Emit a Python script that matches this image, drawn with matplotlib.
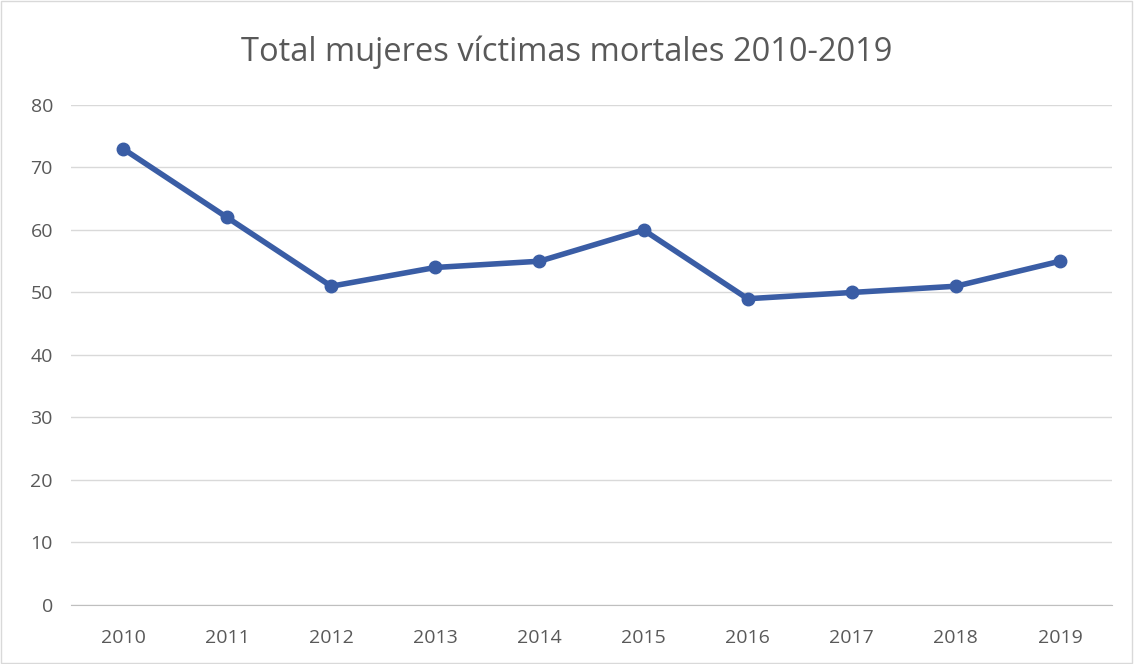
import matplotlib.pyplot as plt
from matplotlib.patches import Rectangle

years = ['2010', '2011', '2012', '2013', '2014', '2015', '2016', '2017', '2018', '2019']
victimas = [73, 62, 51, 54, 55, 60, 49, 50, 51, 55]
yticks = [0, 10, 20, 30, 40, 50, 60, 70, 80]

plt.rcParams['font.family'] = ['Open Sans', 'DejaVu Sans']

fig = plt.figure(figsize=(11.34, 6.64), dpi=100)
ax = fig.add_axes([0.0626, 0.0889, 0.918, 0.753])

x = list(range(len(years)))
ax.plot(x, victimas, color='#3A5DA5', lw=4, marker='o', ms=9, solid_capstyle='round')

ax.set_xlim(-0.5, len(years) - 0.5)
ax.set_ylim(0, 80)
ax.set_yticks(yticks)
ax.set_xticks(x)
ax.set_xticklabels(years)
ax.grid(axis='y', color='#D9D9D9', lw=1)
ax.set_axisbelow(True)
for s in ['top', 'right', 'left']:
    ax.spines[s].set_visible(False)
ax.spines['bottom'].set_color('#BFBFBF')
ax.tick_params(axis='both', length=0, labelsize=14, colors='#595959')
ax.tick_params(axis='x', pad=17)
ax.tick_params(axis='y', pad=13)

fig.text(0.5, 0.922, 'Total mujeres víctimas mortales 2010-2019', ha='center', va='center',
         fontsize=23.5, color='#595959')

# chart border
fig.patches.append(Rectangle((0.001, 0.001), 0.997, 0.997, transform=fig.transFigure,
                             fill=False, edgecolor='#D9D9D9', lw=1))

fig.savefig('out.png', dpi=100)
